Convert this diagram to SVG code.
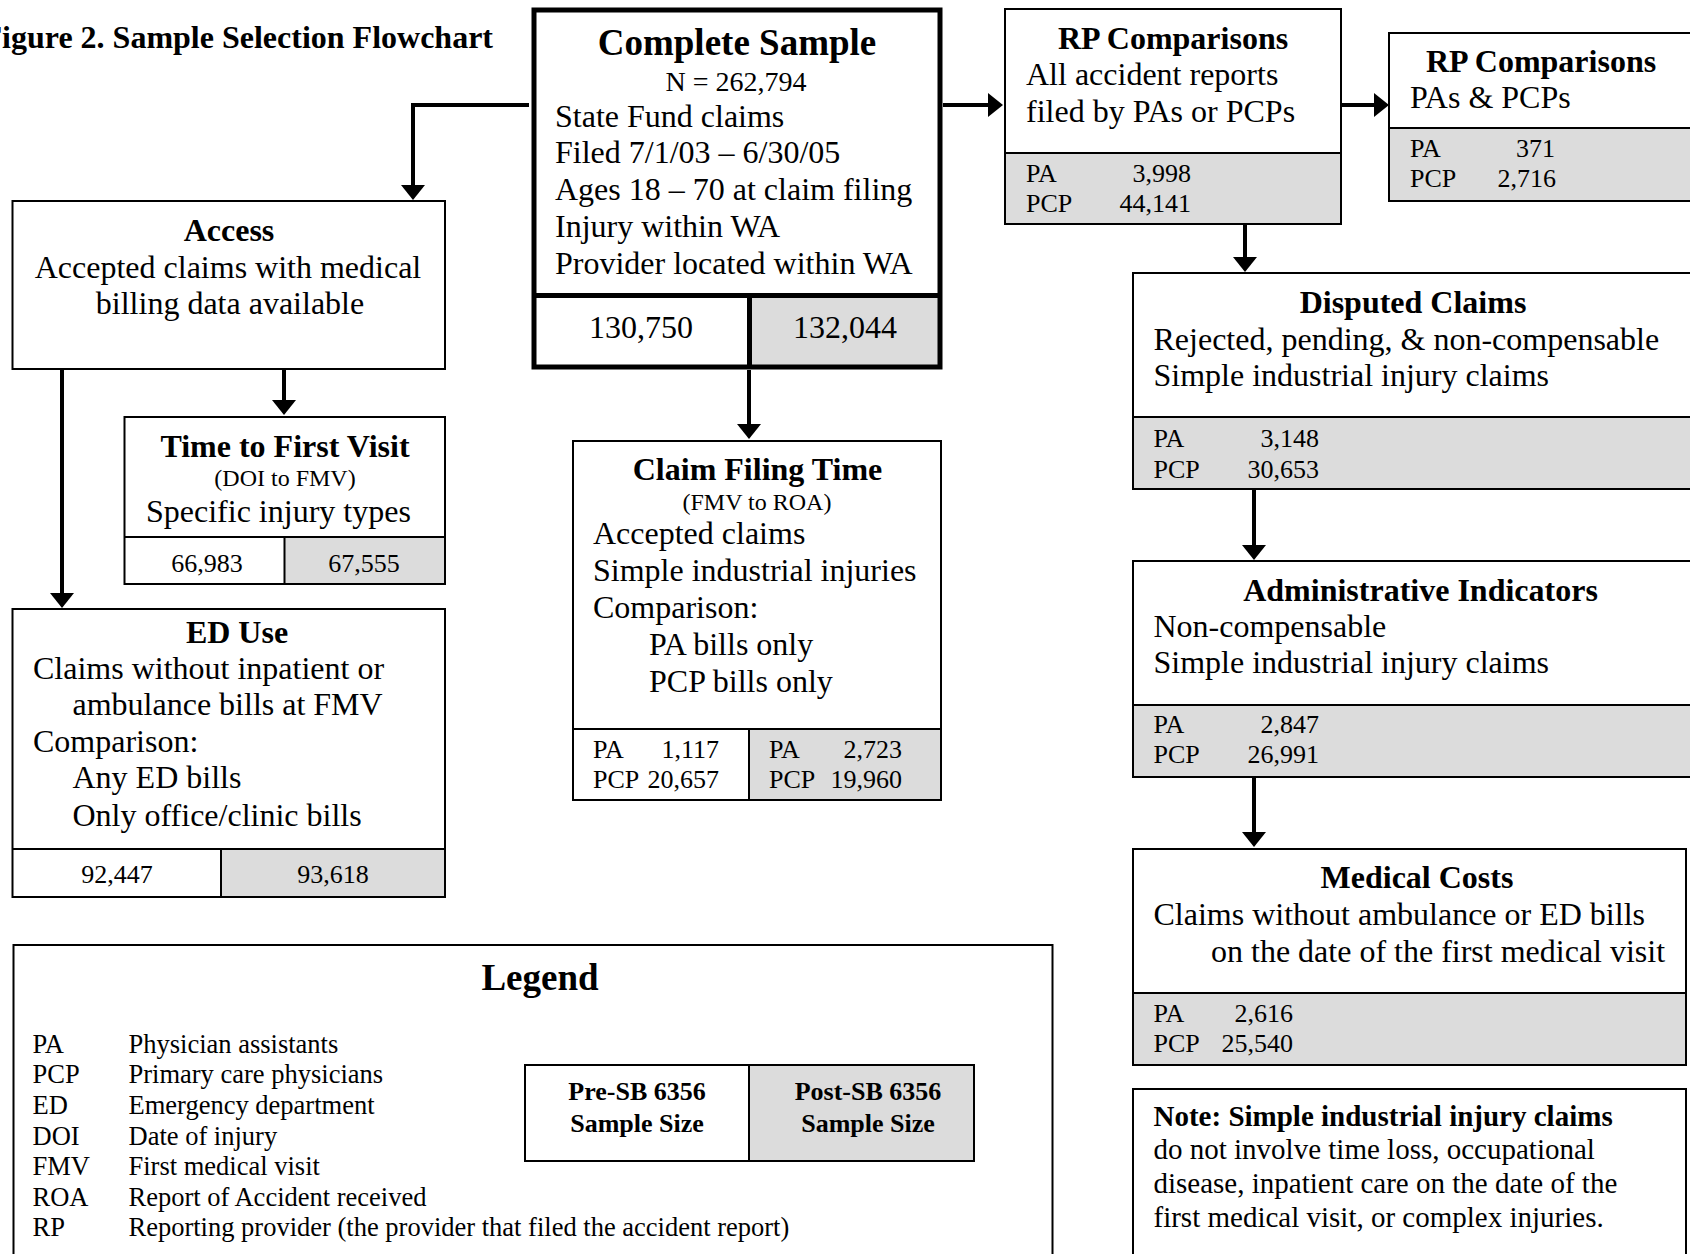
<svg xmlns="http://www.w3.org/2000/svg" width="1690" height="1254" viewBox="0 0 1690 1254">
<style>
text { font-family: "Liberation Serif", "Times New Roman", serif; fill: #000; }
.b32 { font-size: 32px; font-weight: bold; }
.b37 { font-size: 37px; font-weight: bold; }
.b29 { font-size: 29px; font-weight: bold; }
.b26 { font-size: 26px; font-weight: bold; }
.r32 { font-size: 32px; }
.r29 { font-size: 29px; }
.r28 { font-size: 28px; }
.r26 { font-size: 26px; }
.r265 { font-size: 26.5px; }
.r24 { font-size: 24px; }
.c { text-anchor: middle; }
.e { text-anchor: end; }
.box { fill: #fff; stroke: #000; stroke-width: 2; }
.gray { fill: #dcdcdc; stroke: #000; stroke-width: 2; }
.ln { stroke: #000; stroke-width: 2; fill: none; }
.conn { stroke: #000; stroke-width: 4; fill: none; marker-end: url(#arr); }
</style>
<defs>
<marker id="arr" markerUnits="userSpaceOnUse" viewBox="0 0 15 24" markerWidth="15" markerHeight="24" refX="5" refY="12" orient="auto">
<path d="M0,0 L15,12 L0,24 z" fill="#000"/>
</marker>
</defs>
<rect width="1690" height="1254" fill="#fff"/>

<text class="b32 e" x="493" y="48">Figure 2. Sample Selection Flowchart</text>

<g id="connectors">
<path class="conn" d="M529,105 H413 V190"/>
<path class="conn" d="M943,105 H993"/>
<path class="conn" d="M749,370 V429"/>
<path class="conn" d="M284,369 V405"/>
<path class="conn" d="M62,369 V598"/>
<path class="conn" d="M1341,105 H1379"/>
<path class="conn" d="M1245,224 V262"/>
<path class="conn" d="M1254,489 V550"/>
<path class="conn" d="M1254,777 V837"/>
</g>

<g id="complete-sample">
<rect x="534" y="10" width="406" height="357" fill="#fff"/>
<rect x="749" y="296" width="191" height="71" fill="#dcdcdc"/>
<rect x="534" y="10" width="406" height="357" fill="none" stroke="#000" stroke-width="5"/>
<line x1="534" y1="295.5" x2="940" y2="295.5" stroke="#000" stroke-width="5"/>
<line x1="749.5" y1="295.5" x2="749.5" y2="367" stroke="#000" stroke-width="5"/>
<text class="b37 c" x="737" y="55">Complete Sample</text>
<text class="r28 c" x="736" y="91">N = 262,794</text>
<text class="r32" x="555" y="127">State Fund claims</text>
<text class="r32" x="555" y="163">Filed 7/1/03 – 6/30/05</text>
<text class="r32" x="555" y="200">Ages 18 – 70 at claim filing</text>
<text class="r32" x="555" y="237">Injury within WA</text>
<text class="r32" x="555" y="274">Provider located within WA</text>
<text class="r32 c" x="641" y="338">130,750</text>
<text class="r32 c" x="845" y="338">132,044</text>
</g>

<g id="access">
<rect class="box" x="12.5" y="201" width="432.5" height="168"/>
<text class="b32 c" x="229" y="241">Access</text>
<text class="r32 c" x="228" y="278">Accepted claims with medical</text>
<text class="r32 c" x="230" y="314">billing data available</text>
</g>

<g id="time-first-visit">
<rect class="box" x="124.5" y="417" width="320.5" height="167"/>
<rect class="gray" x="284.5" y="537" width="160.5" height="47"/>
<line class="ln" x1="124.5" y1="537" x2="445" y2="537"/>
<text class="b32 c" x="285" y="457">Time to First Visit</text>
<text class="r24 c" x="285" y="486">(DOI to FMV)</text>
<text class="r32" x="146" y="522">Specific injury types</text>
<text class="r26 c" x="207" y="572">66,983</text>
<text class="r26 c" x="364" y="572">67,555</text>
</g>

<g id="ed-use">
<rect class="box" x="12.5" y="609" width="432.5" height="288"/>
<rect class="gray" x="221" y="849" width="224" height="48"/>
<line class="ln" x1="12.5" y1="849" x2="445" y2="849"/>
<text class="b32 c" x="237" y="643">ED Use</text>
<text class="r32" x="33" y="679">Claims without inpatient or</text>
<text class="r32" x="72.5" y="715">ambulance bills at FMV</text>
<text class="r32" x="33" y="752">Comparison:</text>
<text class="r32" x="72.5" y="788">Any ED bills</text>
<text class="r32" x="72.5" y="826">Only office/clinic bills</text>
<text class="r26 c" x="117" y="883">92,447</text>
<text class="r26 c" x="333" y="883">93,618</text>
</g>

<g id="claim-filing-time">
<rect class="box" x="573" y="441" width="368" height="359"/>
<rect class="gray" x="749" y="729" width="192" height="71"/>
<line class="ln" x1="573" y1="729" x2="941" y2="729"/>
<line class="ln" x1="749" y1="800" x2="765" y2="800"/>
<text class="b32 c" x="757.5" y="480">Claim Filing Time</text>
<text class="r24 c" x="757" y="510">(FMV to ROA)</text>
<text class="r32" x="593" y="544">Accepted claims</text>
<text class="r32" x="593" y="581">Simple industrial injuries</text>
<text class="r32" x="593" y="618">Comparison:</text>
<text class="r32" x="649" y="655">PA bills only</text>
<text class="r32" x="649" y="692">PCP bills only</text>
<text class="r26" x="593" y="758">PA</text>
<text class="r26 e" x="719" y="758">1,117</text>
<text class="r26" x="593" y="788">PCP</text>
<text class="r26 e" x="719" y="788">20,657</text>
<text class="r26" x="769" y="758">PA</text>
<text class="r26 e" x="902" y="758">2,723</text>
<text class="r26" x="769" y="788">PCP</text>
<text class="r26 e" x="902" y="788">19,960</text>
</g>

<g id="rp-comparisons-1">
<rect class="box" x="1005" y="9" width="336" height="215"/>
<rect class="gray" x="1005" y="153" width="336" height="71"/>
<text class="b32 c" x="1173" y="49">RP Comparisons</text>
<text class="r32" x="1026" y="85">All accident reports</text>
<text class="r32" x="1026" y="122">filed by PAs or PCPs</text>
<text class="r26" x="1026" y="182">PA</text>
<text class="r26 e" x="1191" y="182">3,998</text>
<text class="r26" x="1026" y="212">PCP</text>
<text class="r26 e" x="1191" y="212">44,141</text>
</g>

<g id="rp-comparisons-2">
<rect class="box" x="1389" y="33" width="320" height="168"/>
<rect class="gray" x="1389" y="128" width="320" height="73"/>
<text class="b32 c" x="1541" y="72">RP Comparisons</text>
<text class="r32" x="1410" y="108">PAs &amp; PCPs</text>
<text class="r26" x="1410" y="157">PA</text>
<text class="r26 e" x="1555" y="157">371</text>
<text class="r26" x="1410" y="187">PCP</text>
<text class="r26 e" x="1556" y="187">2,716</text>
</g>

<g id="disputed-claims">
<rect class="box" x="1133" y="273" width="576" height="216"/>
<rect class="gray" x="1133" y="417" width="576" height="72"/>
<text class="b32 c" x="1413" y="313">Disputed Claims</text>
<text class="r32" x="1153.5" y="350">Rejected, pending, &amp; non-compensable</text>
<text class="r32" x="1153.5" y="386">Simple industrial injury claims</text>
<text class="r26" x="1153.5" y="447">PA</text>
<text class="r26 e" x="1319" y="447">3,148</text>
<text class="r26" x="1153.5" y="478">PCP</text>
<text class="r26 e" x="1319" y="478">30,653</text>
</g>

<g id="administrative-indicators">
<rect class="box" x="1133" y="561" width="576" height="216"/>
<rect class="gray" x="1133" y="705" width="576" height="72"/>
<text class="b32 c" x="1420.5" y="601">Administrative Indicators</text>
<text class="r32" x="1153.5" y="637">Non-compensable</text>
<text class="r32" x="1153.5" y="673">Simple industrial injury claims</text>
<text class="r26" x="1153.5" y="733">PA</text>
<text class="r26 e" x="1319" y="733">2,847</text>
<text class="r26" x="1153.5" y="763">PCP</text>
<text class="r26 e" x="1319" y="763">26,991</text>
</g>

<g id="medical-costs">
<rect class="box" x="1133" y="849" width="553" height="216"/>
<rect class="gray" x="1133" y="993" width="553" height="72"/>
<text class="b32 c" x="1417" y="888">Medical Costs</text>
<text class="r32" x="1153.5" y="925">Claims without ambulance or ED bills</text>
<text class="r32" x="1211" y="962">on the date of the first medical visit</text>
<text class="r26" x="1153.5" y="1022">PA</text>
<text class="r26 e" x="1293" y="1022">2,616</text>
<text class="r26" x="1153.5" y="1052">PCP</text>
<text class="r26 e" x="1293" y="1052">25,540</text>
</g>

<g id="note">
<rect class="box" x="1133" y="1089" width="553" height="180"/>
<text class="b29" x="1153.5" y="1126">Note: Simple industrial injury claims</text>
<text class="r29" x="1153.5" y="1159">do not involve time loss, occupational</text>
<text class="r29" x="1153.5" y="1193">disease, inpatient care on the date of the</text>
<text class="r29" x="1153.5" y="1227">first medical visit, or complex injuries.</text>
</g>

<g id="legend">
<rect class="box" x="13.5" y="945" width="1039" height="330"/>
<text class="b37 c" x="540" y="990">Legend</text>
<text class="r265" x="32.5" y="1053">PA</text>
<text class="r265" x="128.5" y="1053">Physician assistants</text>
<text class="r265" x="32.5" y="1083">PCP</text>
<text class="r265" x="128.5" y="1083">Primary care physicians</text>
<text class="r265" x="32.5" y="1114">ED</text>
<text class="r265" x="128.5" y="1114">Emergency department</text>
<text class="r265" x="32.5" y="1145">DOI</text>
<text class="r265" x="128.5" y="1145">Date of injury</text>
<text class="r265" x="32.5" y="1175">FMV</text>
<text class="r265" x="128.5" y="1175">First medical visit</text>
<text class="r265" x="32.5" y="1206">ROA</text>
<text class="r265" x="128.5" y="1206">Report of Accident received</text>
<text class="r265" x="32.5" y="1236">RP</text>
<text class="r265" x="128.5" y="1236">Reporting provider (the provider that filed the accident report)</text>
<rect class="box" x="525" y="1065" width="449" height="96"/>
<rect class="gray" x="749" y="1065" width="225" height="96"/>
<text class="b26 c" x="637" y="1100">Pre-SB 6356</text>
<text class="b26 c" x="637" y="1132">Sample Size</text>
<text class="b26 c" x="868" y="1100">Post-SB 6356</text>
<text class="b26 c" x="868" y="1132">Sample Size</text>
</g>
</svg>
